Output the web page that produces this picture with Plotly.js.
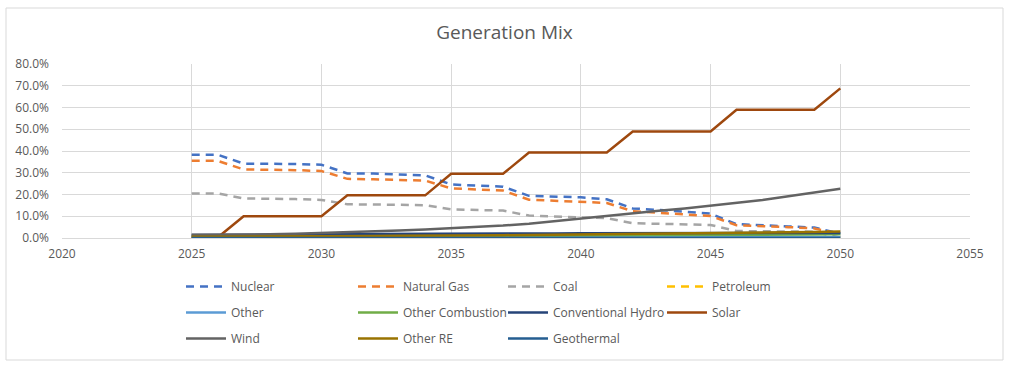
<!DOCTYPE html>
<html>
<head>
<meta charset="utf-8">
<script src="https://cdn.plot.ly/plotly-3.0.1.min.js"></script>
<style>html,body{margin:0;padding:0;background:#fff;}#chart{width:1009px;height:367px;}</style>
</head>
<body>
<div id="chart"></div>
<script>
const years = [2025,2026,2027,2028,2029,2030,2031,2032,2033,2034,2035,2036,2037,2038,2039,2040,2041,2042,2043,2044,2045,2046,2047,2048,2049,2050];
const nuclear = [38.3,38.3,34.2,34.2,34.0,33.7,29.7,29.6,29.3,28.8,24.6,24.0,23.6,19.4,19.0,18.7,17.8,13.6,12.9,12.1,11.2,6.4,6.0,5.3,4.8,2.0];
const naturalGas = [35.5,35.5,31.5,31.4,31.2,30.8,27.2,27.0,26.8,26.4,22.8,22.2,21.8,17.6,17.2,16.8,16.1,12.3,11.6,10.9,10.1,5.9,5.6,5.0,4.4,1.8];
const coal = [20.5,20.5,18.2,18.1,17.9,17.5,15.5,15.4,15.3,15.1,13.2,12.9,12.6,10.3,10.0,9.6,9.1,6.8,6.5,6.3,6.0,3.2,3.1,3.0,2.9,0.2];
const petroleum = [0.1,0.1,0.1,0.1,0.1,0.1,0.1,0.1,0.1,0.1,0.1,0.1,0.1,0.1,0.1,0.1,0.1,0.1,0.1,0.1,0.1,0.1,0.1,0.1,0.1,0.1];
const other = [0.4,0.4,0.4,0.4,0.4,0.4,0.4,0.4,0.4,0.4,0.4,0.4,0.4,0.4,0.4,0.4,0.4,0.4,0.4,0.4,0.4,0.4,0.4,0.4,0.4,0.4];
const otherCombustion = [0.9,0.9,0.9,0.9,1.0,1.0,1.0,1.0,1.1,1.1,1.1,1.1,1.2,1.2,1.2,1.3,1.3,1.3,1.4,1.4,1.4,1.5,1.5,1.6,1.6,1.7];
const conventionalHydro = [1.4,1.4,1.5,1.5,1.6,1.7,1.7,1.8,1.8,1.9,1.9,2.0,2.0,2.1,2.1,2.2,2.2,2.2,2.3,2.3,2.3,2.3,2.3,2.3,2.3,2.3];
const solar = [0.2,0.2,10.0,10.0,10.0,10.0,19.6,19.6,19.6,19.6,29.5,29.5,29.5,39.3,39.3,39.3,39.3,49.0,49.0,49.0,49.0,59.0,59.0,59.0,59.0,68.8];
const wind = [1.5,1.5,1.6,1.7,2.0,2.3,2.7,3.1,3.5,3.9,4.4,5.0,5.7,6.6,7.8,9.2,10.3,11.4,12.5,13.6,14.8,16.1,17.5,19.2,20.8,22.6];
const otherRE = [0.6,0.6,0.7,0.7,0.8,0.8,0.9,0.9,1.0,1.0,1.1,1.2,1.3,1.4,1.5,1.6,1.7,1.8,2.0,2.1,2.2,2.4,2.5,2.7,2.8,3.0];
const geothermal = [0.05,0.05,0.05,0.05,0.05,0.05,0.05,0.05,0.05,0.05,0.05,0.05,0.05,0.05,0.05,0.05,0.05,0.05,0.05,0.05,0.05,0.05,0.05,0.05,0.05,0.05];
const xTicks = [2020,2025,2030,2035,2040,2045,2050,2055];
const yTicks = [0,10,20,30,40,50,60,70,80];
const yTickText = ['0.0%','10.0%','20.0%','30.0%','40.0%','50.0%','60.0%','70.0%','80.0%'];

const series = [
  {name:'Nuclear', y:nuclear, color:'#4472C4', dash:'8px,6px', legend:'legend'},
  {name:'Natural Gas', y:naturalGas, color:'#ED7D31', dash:'8px,6px', legend:'legend2'},
  {name:'Coal', y:coal, color:'#A5A5A5', dash:'8px,6px', legend:'legend3'},
  {name:'Petroleum', y:petroleum, color:'#FFC000', dash:'8px,6px', legend:'legend4'},
  {name:'Other', y:other, color:'#5B9BD5', dash:'solid', legend:'legend'},
  {name:'Other Combustion', y:otherCombustion, color:'#70AD47', dash:'solid', legend:'legend2'},
  {name:'Conventional Hydro', y:conventionalHydro, color:'#264478', dash:'solid', legend:'legend3'},
  {name:'Solar', y:solar, color:'#9E480E', dash:'solid', legend:'legend4'},
  {name:'Wind', y:wind, color:'#636363', dash:'solid', legend:'legend'},
  {name:'Other RE', y:otherRE, color:'#997300', dash:'solid', legend:'legend2'},
  {name:'Geothermal', y:geothermal, color:'#255E91', dash:'solid', legend:'legend3'}
];

const traces = series.map((s,i) => ({
  type:'scatter', mode:'lines', x:years, y:s.y, name:s.name,
  line:{color:s.color, width:2.5, dash:s.dash},
  legend:s.legend, legendgroup:'g'+i, hoverinfo:'skip'
}));

const L=62, R=970, T=64, B=238;
const PW=R-L, PH=B-T;
function px(x){return (x-L)/PW;}
function py(y){return (B-y)/PH;}
const font = {family:'"Open Sans", sans-serif', size:12, color:'#595959'};
function leg(xpx){
  return {x:px(xpx), y:py(272), xanchor:'left', yanchor:'top', orientation:'v',
    font:font, bgcolor:'rgba(0,0,0,0)', itemwidth:40, tracegroupgap:7, traceorder:'grouped'};
}

const layout = {
  width:1009, height:367,
  margin:{l:L, r:1009-R, t:T, b:367-B, pad:0},
  paper_bgcolor:'#ffffff', plot_bgcolor:'#ffffff',
  font:font,
  title:{text:'Generation Mix', font:{family:'"Open Sans", sans-serif', size:19, color:'#595959'},
    x:0.5, xanchor:'center', xref:'container', y:1-32/367, yanchor:'middle'},
  xaxis:{range:[2020,2055], tickvals:xTicks, ticktext:xTicks.map(String), showgrid:true, gridcolor:'#d9d9d9', gridwidth:1,
    zeroline:false, showline:true, linecolor:'#d9d9d9', linewidth:1, ticks:'', tickfont:font, fixedrange:true,
    ticklabelstandoff:5},
  yaxis:{range:[0,80], tickvals:yTicks, ticktext:yTickText, showgrid:true, gridcolor:'#d9d9d9', gridwidth:1,
    zeroline:false, showline:false, ticks:'', tickfont:font, fixedrange:true, ticklabelstandoff:12},
  showlegend:true,
  legend:leg(181), legend2:leg(353), legend3:leg(503), legend4:leg(662),
  shapes:[{type:'rect', xref:'paper', yref:'paper', x0:px(6), x1:px(1003), y0:py(360), y1:py(8),
    line:{color:'#d9d9d9', width:1}, fillcolor:'rgba(0,0,0,0)', layer:'below'}]
};

Plotly.newPlot('chart', traces, layout, {staticPlot:true, displayModeBar:false});
</script>
</body>
</html>
